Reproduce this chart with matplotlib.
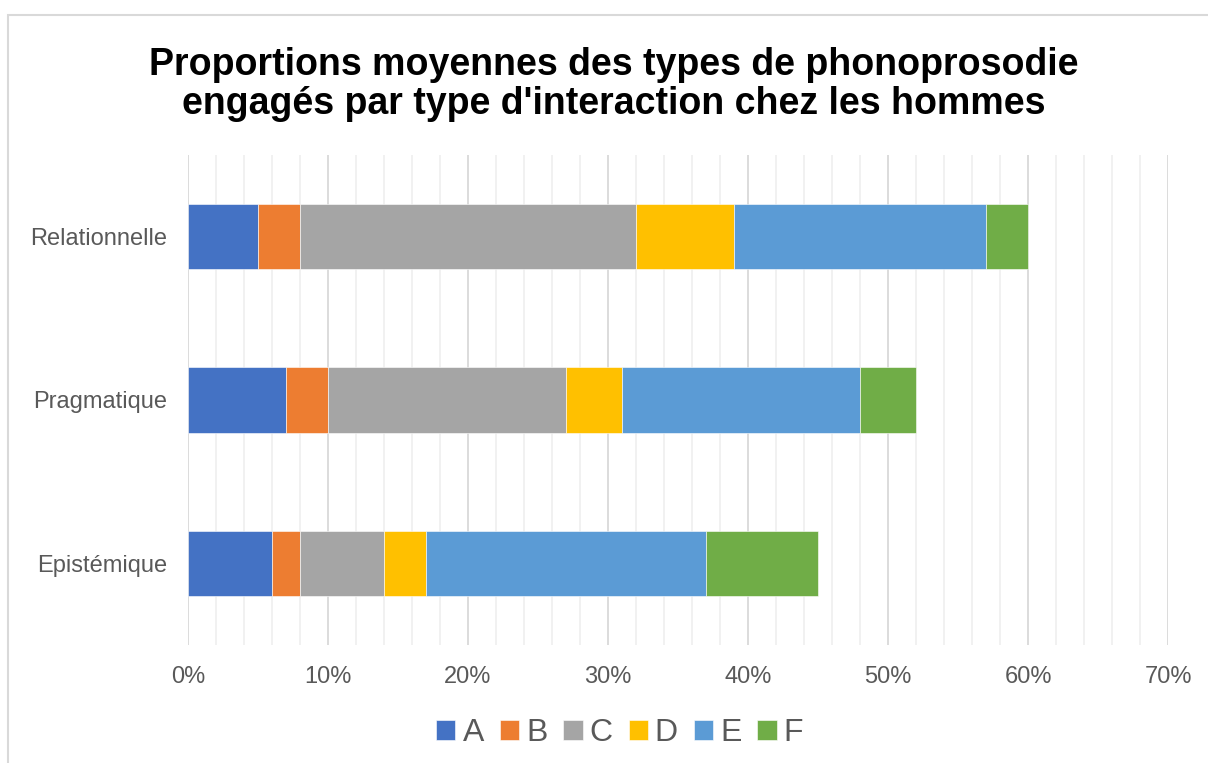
import matplotlib.pyplot as plt
from matplotlib.patches import Rectangle
from matplotlib.ticker import MultipleLocator, PercentFormatter

plt.rcParams['font.family'] = ['Liberation Sans', 'DejaVu Sans']

categories = ['Epistémique', 'Pragmatique', 'Relationnelle']
series = ['A', 'B', 'C', 'D', 'E', 'F']
# proportions (%) for each series, in category order
A = [6, 7, 5]
B = [2, 3, 3]
C = [6, 17, 24]
D = [3, 4, 7]
E = [20, 17, 18]
F = [8, 4, 3]
colors = ['#4472C4', '#ED7D31', '#A5A5A5', '#FFC000', '#5B9BD5', '#70AD47']

fig = plt.figure(figsize=(12.08, 7.63), dpi=100)
ax = fig.add_axes([0.1556, 0.1547, 0.8113, 0.6422])

left = [0, 0, 0]
for name, vals, col in zip(series, [A, B, C, D, E, F], colors):
    ax.barh(categories, vals, left=left, height=0.4, color=col, label=name,
            edgecolor='white', linewidth=0.4, zorder=3)
    left = [l + v for l, v in zip(left, vals)]

ax.set_xlim(0, 70)
ax.set_ylim(-0.5, 2.5)
ax.xaxis.set_major_locator(MultipleLocator(10))
ax.xaxis.set_minor_locator(MultipleLocator(2))
ax.xaxis.set_major_formatter(PercentFormatter(decimals=0))
ax.grid(axis='x', which='major', color='#d9d9d9', linewidth=1.3, zorder=0)
ax.grid(axis='x', which='minor', color='#f0f0f0', linewidth=1.3, zorder=0)
ax.tick_params(axis='both', which='both', length=0, labelsize=17, colors='#595959')
ax.tick_params(axis='x', pad=15)
ax.tick_params(axis='y', pad=15)
for s in ax.spines.values():
    s.set_visible(False)

fig.text(0.508, 0.889, "Proportions moyennes des types de phonoprosodie\nengagés par type d'interaction chez les hommes",
         ha='center', va='center', fontsize=27, fontweight='bold', color='black', linespacing=1.12)

leg = fig.legend(loc='center', bbox_to_anchor=(0.513, 0.039), ncol=6, frameon=False,
                 fontsize=23, handlelength=0.6, handleheight=0.6, handletextpad=0.22,
                 columnspacing=0.5, labelcolor='#595959')

# outer chart border
fig.add_artist(Rectangle((8 / 1208, -0.1), 1.2, (763 - 15) / 763 + 0.1, transform=fig.transFigure,
                         fill=False, edgecolor='#d9d9d9', linewidth=1.5))

fig.savefig('out.png', dpi=100, facecolor='white')
